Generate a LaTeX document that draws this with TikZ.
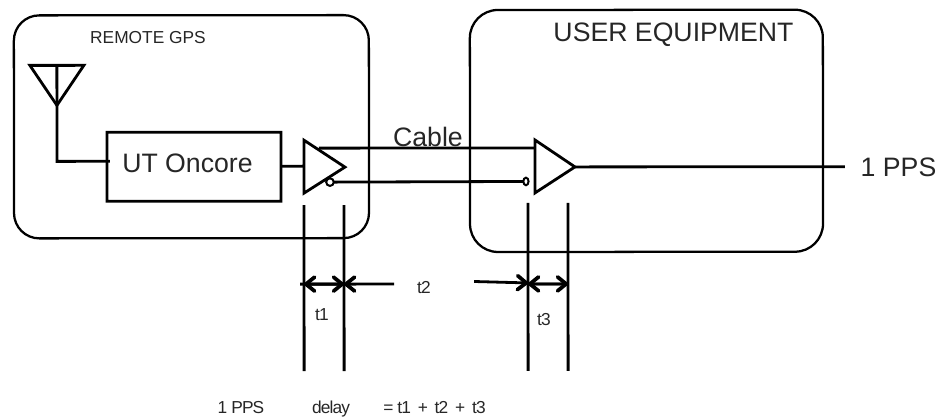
\documentclass[tikz,border=0pt]{standalone}
\usepackage{fontspec}
\setmainfont{Liberation Sans}
\newfontfamily\tightfont[LetterSpace=-5]{Liberation Sans}
\usetikzlibrary{arrows.meta}
\tikzset{
  x=0.75pt,y=-0.75pt,
  thickline/.style={line width=2.1pt,line join=miter,black},
  frame/.style={line width=1.7pt,black},
  bigtext/.style={inner sep=0pt,anchor=base,font=\fontsize{20pt}{20pt}\selectfont,text=black!85},
  smalltext/.style={inner sep=0pt,anchor=base,font=\fontsize{13pt}{13pt}\selectfont,text=black!85},
  tinytext/.style={inner sep=0pt,anchor=base,font=\fontsize{13pt}{13pt}\selectfont\tightfont,text=black!85},
  dimtip/.style={-{Straight Barb[length=6.5pt,width=10.5pt,line width=2.8pt,round]},line width=2.1pt},
}
\begin{document}
\begin{tikzpicture}
\useasboundingbox (0,0) rectangle (941,419);
\begin{scope}[rotate around={0.05:(470,210)}]
% enclosures
\draw[frame,rounded corners=19pt] (14,15) rectangle (369,238);
\draw[frame,rounded corners=21pt] (470,10) rectangle (823,252);
% antenna
\coordinate (antL) at (30,65);
\coordinate (antR) at (84,65);
\coordinate (antT) at (57,105);
\coordinate (antM) at (57,65);
\draw[thickline] (antL) -- (antR) -- (antT) -- cycle;
% receiver
\draw[thickline] (107,132) rectangle (281,201);
\coordinate (utL) at (110,161);
\coordinate (utR) at (281,166);
\draw[thickline] (antM) -- (57,161) -- (utL);
% driver
\coordinate (d1) at (304,140);
\coordinate (d2) at (304,193);
\coordinate (d3) at (345,167);
\draw[thickline] (d1) -- (d3) -- (d2) -- cycle;
\coordinate (dIn) at (304,166);
\draw[thickline] (utR) -- (dIn);
% receiver gate
\coordinate (r1) at (535,140);
\coordinate (r2) at (535,193);
\coordinate (r3) at (575,167);
\draw[thickline] (r1) -- (r3) -- (r2) -- cycle;
% cable
\coordinate (cabA) at (319,148);
\coordinate (cabB) at (535,148);
\draw[thickline] (cabA) -- (cabB);
\coordinate (bubA) at (330,182);
\coordinate (bubB) at (526,181.5);
\draw[thickline] (bubA) -- (bubB);
\draw[line width=1.5pt,fill=white] (bubA) circle[radius=3.8];
\draw[line width=1.5pt,fill=white] (bubB) ellipse[x radius=2.6,y radius=3.8];
% output
\coordinate (outE) at (845,167);
\draw[thickline] (r3) -- (outE);
% extension lines
\coordinate (a1) at (304,205); \coordinate (a2) at (304,371);
\coordinate (b1) at (344,205); \coordinate (b2) at (344,371);
\coordinate (c1) at (528,203); \coordinate (c2) at (528,371);
\coordinate (e1) at (568,203); \coordinate (e2) at (568,371);
\draw[thickline] (a1) -- (a2);
\draw[thickline] (b1) -- (b2);
\draw[thickline] (c1) -- (c2);
\draw[thickline] (e1) -- (e2);
% dimension arrows
\coordinate (t1a) at (300,284);
\coordinate (t1b) at (344,284);
\coordinate (t1c) at (304,284);
\coordinate (t2a) at (394,284);
\coordinate (t2b) at (474,281.5);
\coordinate (t2c) at (528,283);
\coordinate (t3a) at (528,284);
\coordinate (t3b) at (568,284);
\draw[dimtip] (t1b) -- (t1c);
\draw[line width=2.1pt] (t1a) -- (t1c);
\draw[dimtip] (t1c) -- (t1b);
\draw[dimtip] (t2a) -- (t1b);
\draw[dimtip] (t2b) -- (t2c);
\draw[dimtip] (t3b) -- (t3a);
\draw[dimtip] (t3a) -- (t3b);
\end{scope}
% labels
\node[bigtext] (ut) at (187.5,172.5) {UT Oncore};
\node[smalltext] (remote) at (148,43) {REMOTE GPS};
\node[bigtext] (user) at (673.5,41) {USER EQUIPMENT};
\node[bigtext] (cable) at (428,146) {Cable};
\node[bigtext] (pps) at (898.5,176) {1 PPS};
\node[tinytext] (lt1) at (322,320) {t1};
\node[tinytext] (lt2) at (424,293) {t2};
\node[tinytext] (lt3) at (544,325) {t3};
\node[tinytext] (f1) at (241,413) {1 PPS};
\node[tinytext] (f2) at (331,413) {delay};
\node[tinytext] (f3) at (434.5,413) {= t1\, +\, t2\, +\, t3};
\end{tikzpicture}
\end{document}
